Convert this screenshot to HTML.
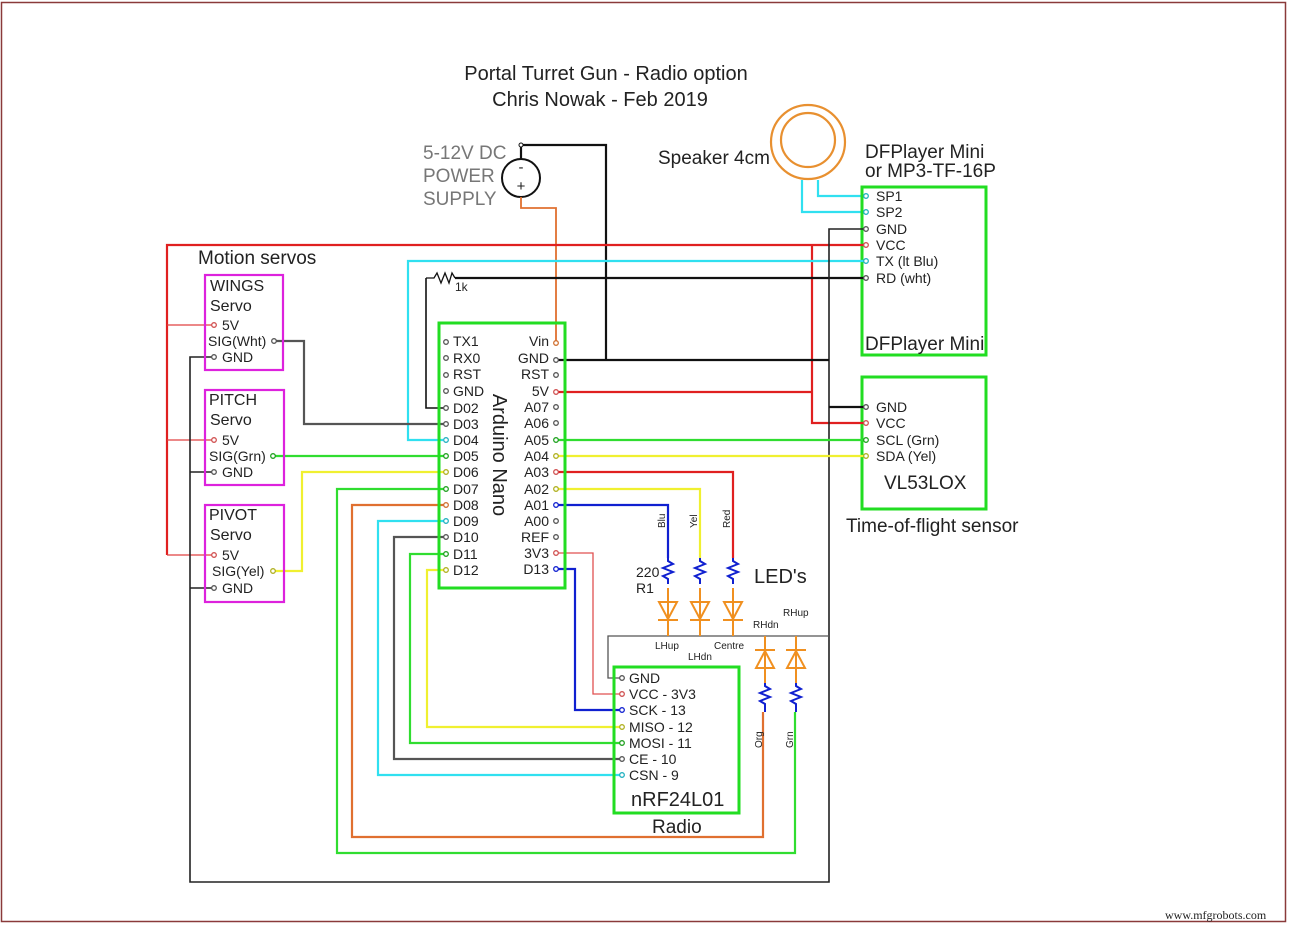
<!DOCTYPE html>
<html><head><meta charset="utf-8"><style>
html,body{margin:0;padding:0;background:#fff;}
svg{display:block;}
text{font-family:"Liberation Sans",Arial,sans-serif;fill:#222;}
.s{font-size:14px;}
.m{font-size:16px;}
.l{font-size:19px;}
.t{font-size:10px;}
</style></head><body>
<svg width="1290" height="926" viewBox="0 0 1290 926" xmlns="http://www.w3.org/2000/svg">
<rect x="1.5" y="2.5" width="1284" height="919" fill="none" stroke="#8a3a3a" stroke-width="1.5"/>
<text x="1165" y="919" style="font-family:'Liberation Serif',serif;font-size:12px;fill:#222">www.mfgrobots.com</text>

<text x="606" y="80" text-anchor="middle" style="font-size:20px">Portal Turret Gun - Radio option</text>
<text x="600" y="106" text-anchor="middle" style="font-size:20px">Chris Nowak - Feb 2019</text>

<!-- power supply -->
<text class="l" x="423" y="159" style="fill:#777">5-12V DC</text>
<text class="l" x="423" y="182" style="fill:#777">POWER</text>
<text class="l" x="423" y="205" style="fill:#777">SUPPLY</text>
<circle cx="521" cy="178" r="19" fill="none" stroke="#111" stroke-width="2"/>
<text x="521" y="172" text-anchor="middle" style="font-size:15px">-</text>
<text x="521" y="191" text-anchor="middle" style="font-size:15px">+</text>
<polyline points="521,159 521,145 606,145 606,360" fill="none" stroke="#111" stroke-width="2.2"/>
<circle cx="521" cy="145" r="2" fill="#fff" stroke="#111"/>
<polyline points="521,197 521,208 556,208 556,343" fill="none" stroke="#e07030" stroke-width="1.8"/>

<!-- speaker -->
<text class="l" x="658" y="164">Speaker 4cm</text>
<circle cx="808" cy="142" r="37" fill="none" stroke="#e89030" stroke-width="2.2"/>
<circle cx="808" cy="140" r="27" fill="none" stroke="#e89030" stroke-width="2.2"/>
<polyline points="802,180 802,212 866,212" fill="none" stroke="#30e0f0" stroke-width="2.2"/>
<polyline points="818,180 818,196 866,196" fill="none" stroke="#30e0f0" stroke-width="2.2"/>

<!-- DFPlayer -->
<text class="l" x="865" y="158">DFPlayer Mini</text>
<text class="l" x="865" y="177">or MP3-TF-16P</text>
<rect x="862" y="187" width="124" height="168" fill="none" stroke="#22dd22" stroke-width="3"/>
<text class="s" x="876" y="201">SP1</text>
<text class="s" x="876" y="217">SP2</text>
<text class="s" x="876" y="234">GND</text>
<text class="s" x="876" y="250">VCC</text>
<text class="s" x="876" y="266">TX (lt Blu)</text>
<text class="s" x="876" y="283">RD (wht)</text>
<text class="l" x="865" y="350">DFPlayer Mini</text>

<!-- VL53 -->
<rect x="862" y="377" width="124" height="132" fill="none" stroke="#22dd22" stroke-width="3"/>
<text class="s" x="876" y="412">GND</text>
<text class="s" x="876" y="428">VCC</text>
<text class="s" x="876" y="445">SCL (Grn)</text>
<text class="s" x="876" y="461">SDA (Yel)</text>
<text class="l" x="884" y="489">VL53LOX</text>
<text class="l" x="846" y="532">Time-of-flight sensor</text>

<!-- main wires -->
<polyline points="167,555 167,245 866,245" fill="none" stroke="#e02020" stroke-width="2.2"/>
<line x1="167" y1="325" x2="213" y2="325" stroke="#e04040" stroke-width="1.2"/>
<line x1="167" y1="440" x2="213" y2="440" stroke="#e04040" stroke-width="1.2"/>
<line x1="167" y1="555" x2="213" y2="555" stroke="#e04040" stroke-width="1.2"/>
<polyline points="812,245 812,423 866,423" fill="none" stroke="#e02020" stroke-width="2.2"/>
<line x1="556" y1="392" x2="812" y2="392" stroke="#e02020" stroke-width="2.2"/>
<polyline points="443,440 408,440 408,261 866,261" fill="none" stroke="#30e0f0" stroke-width="2.2"/>
<line x1="455" y1="278" x2="866" y2="278" stroke="#111" stroke-width="2.2"/>
<path d="M426,278 L434,278 L437,273 L441,283 L445,273 L449,283 L452,273 L455,278" fill="none" stroke="#111" stroke-width="1.3"/>
<text x="455" y="291" style="font-size:12px">1k</text>
<polyline points="426,278 426,408 446,408" fill="none" stroke="#111" stroke-width="1.6"/>
<polyline points="866,229 829,229 829,882 190,882 190,357 214,357" fill="none" stroke="#222" stroke-width="1.6"/>
<line x1="190" y1="472" x2="214" y2="472" stroke="#222" stroke-width="1.6"/>
<line x1="190" y1="588" x2="214" y2="588" stroke="#222" stroke-width="1.6"/>
<line x1="556" y1="360" x2="829" y2="360" stroke="#111" stroke-width="2.2"/>
<line x1="829" y1="407" x2="866" y2="407" stroke="#111" stroke-width="2.2"/>
<line x1="556" y1="440" x2="866" y2="440" stroke="#30dd30" stroke-width="2.2"/>
<line x1="556" y1="456" x2="866" y2="456" stroke="#f0f030" stroke-width="2.2"/>
<polyline points="556,472 733,472 733,558" fill="none" stroke="#e02020" stroke-width="2.2"/>
<polyline points="556,489 700,489 700,558" fill="none" stroke="#f0f030" stroke-width="2.2"/>
<polyline points="556,505 668,505 668,558" fill="none" stroke="#1020d0" stroke-width="2.2"/>
<polyline points="274,341 304,341 304,424 446,424" fill="none" stroke="#555" stroke-width="2.2"/>
<line x1="273" y1="456" x2="446" y2="456" stroke="#30dd30" stroke-width="2.2"/>
<polyline points="273,571 302,571 302,472 446,472" fill="none" stroke="#f0f030" stroke-width="2.2"/>
<polyline points="446,489 337,489 337,853 795,853 795,712" fill="none" stroke="#30dd30" stroke-width="2.2"/>
<polyline points="446,505 352,505 352,837 763,837 763,712" fill="none" stroke="#e07030" stroke-width="2.2"/>
<polyline points="446,521 378,521 378,775 622,775" fill="none" stroke="#30e0f0" stroke-width="2.2"/>
<polyline points="446,537 394,537 394,759 622,759" fill="none" stroke="#555" stroke-width="2.2"/>
<polyline points="446,554 410,554 410,743 622,743" fill="none" stroke="#30dd30" stroke-width="2.2"/>
<polyline points="446,570 427,570 427,727 622,727" fill="none" stroke="#f0f030" stroke-width="2.2"/>
<polyline points="556,569 575,569 575,710 622,710" fill="none" stroke="#1020d0" stroke-width="2.2"/>
<polyline points="556,553 593,553 593,694 622,694" fill="none" stroke="#e05050" stroke-width="1.3"/>
<polyline points="622,678 608,678 608,636 829,636" fill="none" stroke="#555" stroke-width="1.3"/>

<!-- servos -->
<text class="l" x="198" y="264">Motion servos</text>
<rect x="205" y="275" width="78" height="95" fill="none" stroke="#dd22dd" stroke-width="2.2"/>
<text class="m" x="210" y="291">WINGS</text><text class="m" x="210" y="311">Servo</text>
<text class="s" x="222" y="330">5V</text><text class="s" x="208" y="346">SIG(Wht)</text><text class="s" x="222" y="362">GND</text>
<rect x="205" y="390" width="79" height="95" fill="none" stroke="#dd22dd" stroke-width="2.2"/>
<text class="m" x="209" y="405">PITCH</text><text class="m" x="210" y="425">Servo</text>
<text class="s" x="222" y="445">5V</text><text class="s" x="209" y="461">SIG(Grn)</text><text class="s" x="222" y="477">GND</text>
<rect x="205" y="505" width="79" height="97" fill="none" stroke="#dd22dd" stroke-width="2.2"/>
<text class="m" x="209" y="520">PIVOT</text><text class="m" x="210" y="540">Servo</text>
<text class="s" x="222" y="560">5V</text><text class="s" x="212" y="576">SIG(Yel)</text><text class="s" x="222" y="593">GND</text>

<!-- Arduino -->
<rect x="439" y="323" width="126" height="265" fill="none" stroke="#22dd22" stroke-width="3"/>
<text class="s" x="453" y="346">TX1</text><text class="s" x="453" y="363">RX0</text><text class="s" x="453" y="379">RST</text><text class="s" x="453" y="396">GND</text>
<text class="s" x="453" y="413">D02</text><text class="s" x="453" y="429">D03</text><text class="s" x="453" y="445">D04</text><text class="s" x="453" y="461">D05</text>
<text class="s" x="453" y="477">D06</text><text class="s" x="453" y="494">D07</text><text class="s" x="453" y="510">D08</text><text class="s" x="453" y="526">D09</text>
<text class="s" x="453" y="542">D10</text><text class="s" x="453" y="559">D11</text><text class="s" x="453" y="575">D12</text>
<g text-anchor="end">
<text class="s" x="549" y="346">Vin</text><text class="s" x="549" y="363">GND</text><text class="s" x="549" y="379">RST</text><text class="s" x="549" y="396">5V</text>
<text class="s" x="549" y="412">A07</text><text class="s" x="549" y="428">A06</text><text class="s" x="549" y="445">A05</text><text class="s" x="549" y="461">A04</text>
<text class="s" x="549" y="477">A03</text><text class="s" x="549" y="494">A02</text><text class="s" x="549" y="510">A01</text><text class="s" x="549" y="526">A00</text>
<text class="s" x="549" y="542">REF</text><text class="s" x="549" y="558">3V3</text><text class="s" x="549" y="574">D13</text>
</g>
<text class="l" transform="translate(493,455) rotate(90)" text-anchor="middle" style="font-size:20px">Arduino Nano</text>

<!-- nRF -->
<rect x="614" y="667" width="125" height="146" fill="none" stroke="#22dd22" stroke-width="3"/>
<text class="s" x="629" y="683">GND</text><text class="s" x="629" y="699">VCC - 3V3</text><text class="s" x="629" y="715">SCK - 13</text>
<text class="s" x="629" y="732">MISO - 12</text><text class="s" x="629" y="748">MOSI - 11</text><text class="s" x="629" y="764">CE - 10</text><text class="s" x="629" y="780">CSN - 9</text>
<text class="l" x="631" y="806" style="font-size:20px">nRF24L01</text>
<text class="l" x="652" y="833">Radio</text>

<!-- LEDs -->
<g fill="none" stroke="#1020d0" stroke-width="2">
<path d="M668,558 l0,3 l5,3 l-10,4 l10,4 l-10,4 l5,3 l0,5"/>
<path d="M700,558 l0,3 l5,3 l-10,4 l10,4 l-10,4 l5,3 l0,5"/>
<path d="M733,558 l0,3 l5,3 l-10,4 l10,4 l-10,4 l5,3 l0,5"/>
<path d="M765,683 l0,3 l5,3 l-10,4 l10,4 l-10,4 l5,3 l0,8"/>
<path d="M796,683 l0,3 l5,3 l-10,4 l10,4 l-10,4 l5,3 l0,8"/>
</g>
<g fill="none" stroke="#f09020" stroke-width="2">
<path d="M668,588 V636 M659,602 h18 l-9,17 z M658,620 h20"/>
<path d="M700,588 V636 M691,602 h18 l-9,17 z M690,620 h20"/>
<path d="M733,588 V636 M724,602 h18 l-9,17 z M723,620 h20"/>
<path d="M765,636 V683 M756,668 h18 l-9,-17 z M755,650 h20"/>
<path d="M796,636 V683 M787,668 h18 l-9,-17 z M786,650 h20"/>
</g>
<text class="t" transform="translate(665,528) rotate(-90)">Blu</text>
<text class="t" transform="translate(697,528) rotate(-90)">Yel</text>
<text class="t" transform="translate(730,528) rotate(-90)">Red</text>
<text class="t" transform="translate(762,748) rotate(-90)">Org</text>
<text class="t" transform="translate(793,748) rotate(-90)">Grn</text>
<text class="s" x="636" y="577">220</text>
<text class="s" x="636" y="593">R1</text>
<text class="l" x="754" y="583" style="font-size:20px">LED's</text>
<text class="t" x="655" y="649">LHup</text>
<text class="t" x="688" y="660">LHdn</text>
<text class="t" x="714" y="649">Centre</text>
<text class="t" x="753" y="628">RHdn</text>
<text class="t" x="783" y="616">RHup</text>

<!-- pins -->
<g fill="#fff" stroke-width="1.3">
<g stroke="#555">
<circle cx="446" cy="342" r="2.3"/><circle cx="446" cy="358" r="2.3"/><circle cx="446" cy="375" r="2.3"/><circle cx="446" cy="391" r="2.3"/>
<circle cx="446" cy="408" r="2.3"/><circle cx="446" cy="424" r="2.3"/><circle cx="446" cy="537" r="2.3"/>
<circle cx="556" cy="375" r="2.3"/><circle cx="556" cy="407" r="2.3"/><circle cx="556" cy="423" r="2.3"/><circle cx="556" cy="521" r="2.3"/><circle cx="556" cy="537" r="2.3"/>
<circle cx="556" cy="360" r="2.3"/><circle cx="274" cy="341" r="2.3"/>
<circle cx="214" cy="357" r="2.3"/><circle cx="214" cy="472" r="2.3"/><circle cx="214" cy="588" r="2.3"/>
<circle cx="866" cy="229" r="2.3"/><circle cx="866" cy="278" r="2.3"/><circle cx="866" cy="407" r="2.3"/>
<circle cx="622" cy="678" r="2.3"/><circle cx="622" cy="759" r="2.3"/>
</g>
<g stroke="#d05050"><circle cx="214" cy="325" r="2.3"/><circle cx="214" cy="440" r="2.3"/><circle cx="214" cy="555" r="2.3"/>
<circle cx="556" cy="392" r="2.3"/><circle cx="556" cy="472" r="2.3"/><circle cx="556" cy="553" r="2.3"/><circle cx="866" cy="245" r="2.3"/><circle cx="866" cy="423" r="2.3"/><circle cx="622" cy="694" r="2.3"/></g>
<g stroke="#d07030"><circle cx="556" cy="343" r="2.3"/><circle cx="446" cy="505" r="2.3"/></g>
<g stroke="#20b0c0"><circle cx="446" cy="440" r="2.3"/><circle cx="446" cy="521" r="2.3"/><circle cx="866" cy="196" r="2.3"/><circle cx="866" cy="212" r="2.3"/><circle cx="866" cy="261" r="2.3"/><circle cx="622" cy="775" r="2.3"/></g>
<g stroke="#20a020"><circle cx="446" cy="456" r="2.3"/><circle cx="446" cy="489" r="2.3"/><circle cx="446" cy="554" r="2.3"/><circle cx="556" cy="440" r="2.3"/><circle cx="273" cy="456" r="2.3"/><circle cx="866" cy="440" r="2.3"/><circle cx="622" cy="743" r="2.3"/></g>
<g stroke="#b0b020"><circle cx="446" cy="472" r="2.3"/><circle cx="446" cy="570" r="2.3"/><circle cx="556" cy="456" r="2.3"/><circle cx="556" cy="489" r="2.3"/><circle cx="273" cy="571" r="2.3"/><circle cx="866" cy="456" r="2.3"/><circle cx="622" cy="727" r="2.3"/></g>
<g stroke="#1020d0"><circle cx="556" cy="505" r="2.3"/><circle cx="556" cy="569" r="2.3"/><circle cx="622" cy="710" r="2.3"/></g>
</g>
</svg>
</body></html>
